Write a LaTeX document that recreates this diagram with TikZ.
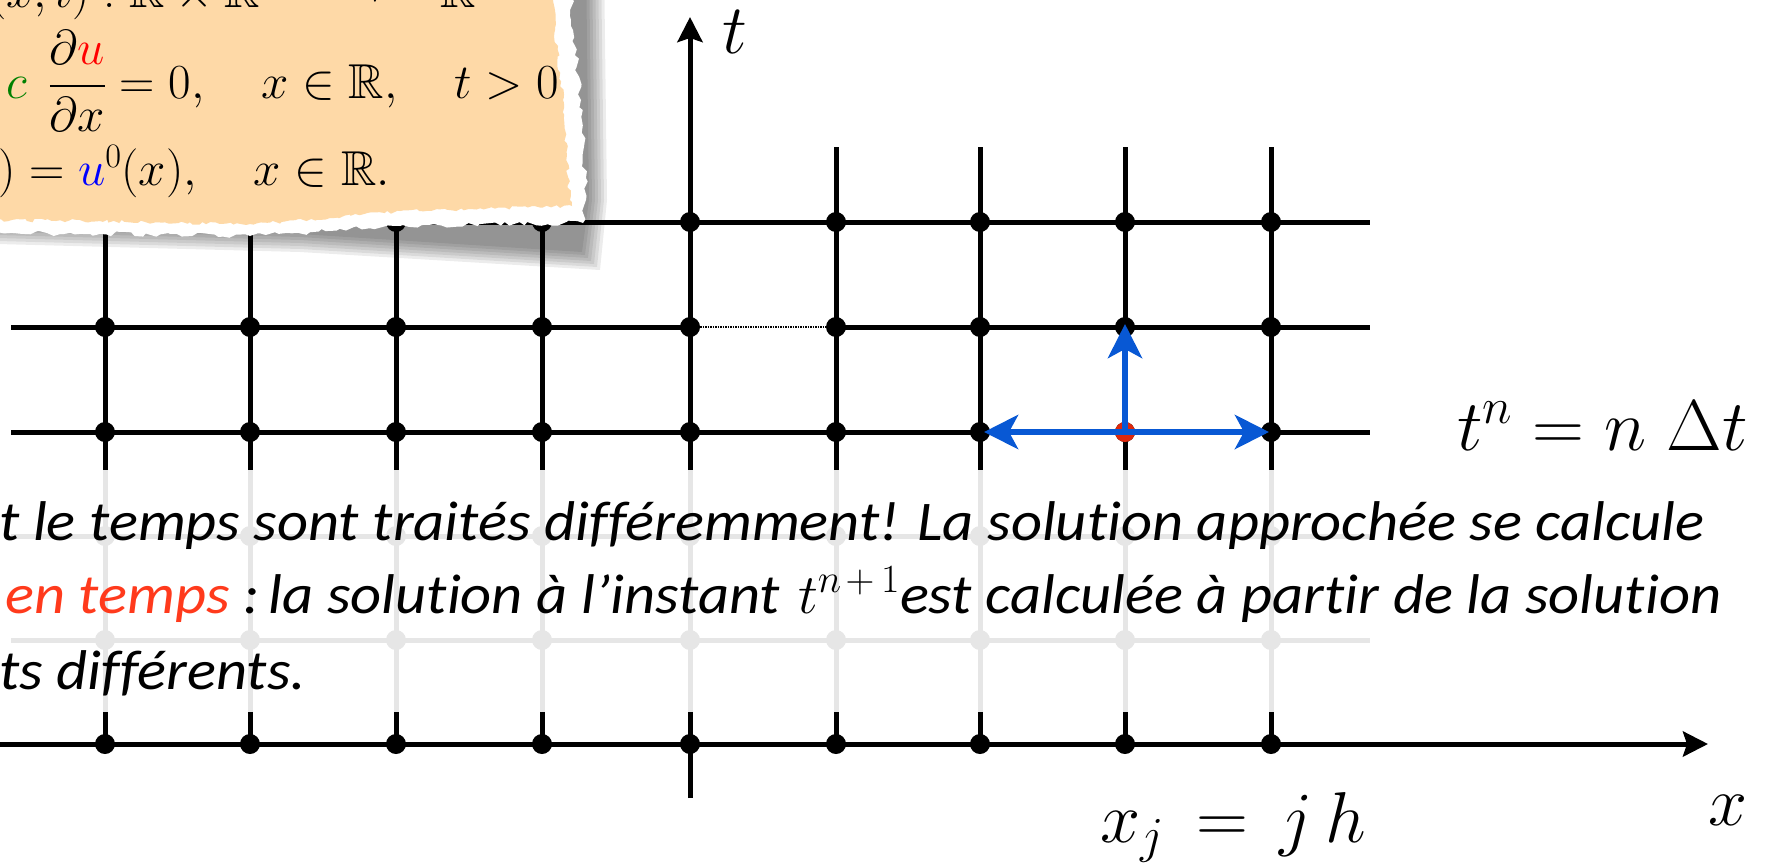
\documentclass[tikz,border=0pt]{standalone}
\usepackage{amsmath,amssymb}
\usepackage{fix-cm}
\usepackage[no-math]{fontspec}
\setmainfont{Carlito}
\newfontfamily\bodyfont[FakeStretch=1.08,Ligatures=NoCommon]{Carlito}
\usetikzlibrary{arrows.meta,decorations.pathmorphing}
\definecolor{paper}{RGB}{254,217,167}
\definecolor{arrowblue}{RGB}{8,88,212}
\definecolor{dotred}{RGB}{222,40,12}
\definecolor{txtred}{RGB}{255,58,28}
\definecolor{eqgreen}{RGB}{0,128,0}
\begin{document}
\begin{tikzpicture}[x=1pt,y=-1pt,
  gridline/.style={line width=5pt,black},
  thindots/.style={line width=1.5pt,black,densely dotted},
  dot/.style={circle,fill=black,inner sep=0pt,minimum size=20pt},
  reddot/.style={dot,fill=dotred},
  bluearrow/.style={line width=6.5pt,arrowblue,-{Stealth[length=34pt,width=34pt,inset=9pt]}},
  axisarrow/.style={line width=5pt,black,-{Stealth[length=25pt,width=25pt,inset=4pt]}},
  biglabel/.style={inner sep=0pt,anchor=base west,font=\fontsize{70}{74}\selectfont},
  midlabel/.style={inner sep=0pt,anchor=base west,font=\fontsize{72}{76}\selectfont},
  papermath/.style={inner sep=0pt,font=\fontsize{49}{52}\selectfont},
  bodytext/.style={inner sep=0pt,anchor=base west,font=\fontsize{56}{64}\bodyfont\itshape},
  torn/.style={decorate,decoration={random steps,segment length=#1,amplitude=0.45*#1}},
]
\useasboundingbox (0,0) rectangle (1768,865);

% ---- grid coordinates
\foreach \x [count=\i] in {105,250,396,542,690,836,980,1125,1271} {
  \coordinate (top\i) at (\x,147);
  \coordinate (bot\i) at (\x,744);
}
\foreach \y [count=\j] in {222,327,432,536,640} {
  \coordinate (left\j) at (11,\y);
  \coordinate (right\j) at (1370,\y);
}
\coordinate (xstart) at (-5,744);
\coordinate (xend) at (1708,744);
\coordinate (tstart) at (690,798);
\coordinate (tend) at (690,17);

% ---- grid lines
\foreach \i in {1,2,3,4,6,7,8,9} { \draw[gridline] (top\i) -- (bot\i); }
\foreach \j in {1,3,4,5} { \draw[gridline] (left\j) -- (right\j); }
\coordinate (m1) at (690,327);
\coordinate (m2) at (836,327);
\draw[gridline] (left2) -- (m1);
\draw[thindots] (m1) -- (m2);
\draw[gridline] (m2) -- (right2);
\draw[axisarrow] (tstart) -- (tend);
\draw[axisarrow] (xstart) -- (xend);

% ---- dots
\foreach \x [count=\i] in {105,250,396,542,690,836,980,1125,1271} {
  \foreach \y [count=\j] in {222,327,432,536,640,744} {
    \node[dot] (d\i-\j) at (\x,\y) {};
  }
}
\node[reddot] (cur) at (d8-3) {};
\draw[bluearrow,shorten >=4pt] (cur.center) -- (d7-3.center);
\draw[bluearrow,shorten >=2pt] (cur.center) -- (d9-3.center);
\draw[bluearrow,shorten >=-3pt] (cur.center) -- (d8-2.center);

% ---- translucent text panel
\fill[white,opacity=0.9] (-5,470) rectangle (1745,712);
\node[bodytext] (l1) at (-1,540) {t le temps sont traités différemment! La solution approchée se calcule};
\node[bodytext] (l2) at (5,613) {\textcolor{txtred}{en temps} :\,la solution à l’instant\hspace{18pt}$t^{\text{\fontsize{40}{40}\selectfont$n\mkern2mu{+}\mkern3mu1$}}$est calculée à partir de la solution};
\node[bodytext] (l3) at (-1,689) {ts différents.};

% ---- axis labels
\node[biglabel] (tlab) at (722,53) {$t$};
\node[biglabel] (xlab) at (1708,825) {$x$};
\node[midlabel] (tn) at (1457,450) {$t^n = n\;\Delta t$};
\node[midlabel] (xj) at (1100,842) {$x_j \,=\, j\,h$};

% ---- torn paper note with shadow
\pgfmathsetseed{11}
\foreach \k in {0,...,6} {
  \fill[black,opacity=0.075] (-40,-40) -- ({604-3*\k},-40) -- ({607-3*\k},200)
    -- ({600-3*\k},{270-3*\k}) -- (300,{252-3*\k}) -- (-40,{243-3*\k}) -- cycle;
}
\fill[white,torn=6pt] (-40,-40) -- (571,-40) -- (573,30) -- (581,100) -- (586,200)
  -- (583,223) -- (400,226) -- (250,236) -- (100,234) -- (-40,232) -- cycle;
\fill[paper,torn=4pt] (-40,-40) -- (553,-40) -- (555,30) -- (563,100) -- (570,200)
  -- (572,206) -- (400,211) -- (330,218) -- (250,224) -- (100,221) -- (-40,220) -- cycle;

\node[papermath,anchor=base east] (eq0) at (476,7)
  {$u(x,t) : \mathbb{R}\times\mathbb{R} \mathrel{\hspace{37pt}\raisebox{6pt}{$\longrightarrow$}\hspace{37pt}} \mathbb{R}$};
\node[papermath,anchor=base west] (eq1) at (6,98)
  {$\textcolor{eqgreen}{c}\;\,\dfrac{\partial \textcolor{red}{u}}{\partial x} = 0, \quad x\in\mathbb{R}, \quad t>0$};
\node[papermath,anchor=base west] (eq2) at (-2,185)
  {$) = \textcolor{blue}{u}^0(x), \quad x\in\mathbb{R}.$};
\end{tikzpicture}
\end{document}
